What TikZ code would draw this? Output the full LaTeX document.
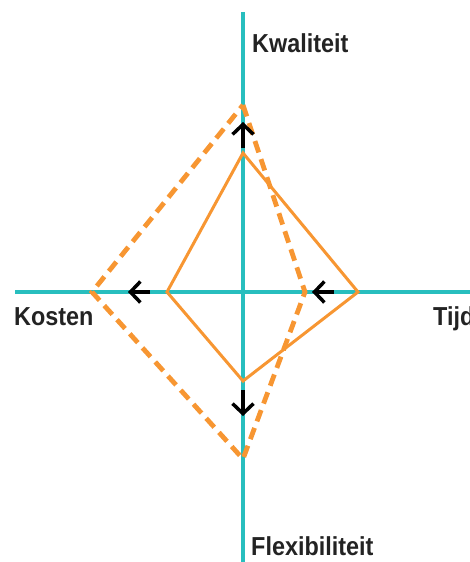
\documentclass[tikz,border=0pt]{standalone}
\usepackage{fontspec}
\setmainfont{Liberation Sans}
\newfontfamily\narrowsans[FakeStretch=0.9]{Liberation Sans}
\usetikzlibrary{arrows.meta}
\definecolor{axisteal}{RGB}{40,190,190}
\definecolor{planorange}{RGB}{247,150,50}
\definecolor{labelgray}{RGB}{35,35,35}

\begin{document}
\begin{tikzpicture}[x=1pt, y=-1pt,
    axis/.style={axisteal, line width=3.2pt},
    oldplan/.style={planorange, line width=3pt},
    newplan/.style={planorange, line width=4.8pt, dash pattern=on 12pt off 7pt},
    move/.style={-{Straight Barb[length=10pt,width=21pt]}, line width=3.5pt, black},
    axislabel/.style={font=\narrowsans\fontsize{26}{30}\selectfont\bfseries, text=labelgray,
      inner sep=0pt, anchor=base west}]
  \useasboundingbox (0,0) rectangle (470,562);
  % Axis ends
  \coordinate (ktop) at (243,12);
  \coordinate (fbot) at (243,562);
  \coordinate (cleft) at (15,292);
  \coordinate (tright) at (470,292);
  % Labels
  \node[axislabel] (kwal) at (252,52) {Kwaliteit};
  \node[axislabel] (kost) at (14,325) {Kosten};
  \node[axislabel] (tijd) at (433,325) {Tijd};
  \node[axislabel] (flex) at (251,555) {Flexibiliteit};
  % Solid diamond corners
  \coordinate (k1) at (243,153);
  \coordinate (t1) at (358,292);
  \coordinate (f1) at (243,381);
  \coordinate (c1) at (167,292);
  % Dashed diamond corners
  \coordinate (k2) at (243,105);
  \coordinate (t2) at (305,292);
  \coordinate (f2) at (243,459);
  \coordinate (c2) at (92,292);
  % Axes
  \draw[axis] (ktop) -- (fbot);
  \draw[axis] (cleft) -- (tright);
  % Diamonds
  \draw[oldplan] (k1) -- (t1) -- (f1) -- (c1) -- cycle;
  \draw[newplan] (k2) -- (t2) -- (f2) -- (c2) -- cycle;
  % Arrow ends
  \coordinate (ka) at (243,148);
  \coordinate (kb) at (243,122);
  \coordinate (ca) at (150,292);
  \coordinate (cb) at (128,292);
  \coordinate (ta) at (334,292);
  \coordinate (tb) at (312,292);
  \coordinate (fa) at (243,390);
  \coordinate (fb) at (243,416);
  % Shifts
  \draw[move] (ka) -- (kb);
  \draw[move] (ca) -- (cb);
  \draw[move] (ta) -- (tb);
  \draw[move] (fa) -- (fb);
\end{tikzpicture}
\end{document}
